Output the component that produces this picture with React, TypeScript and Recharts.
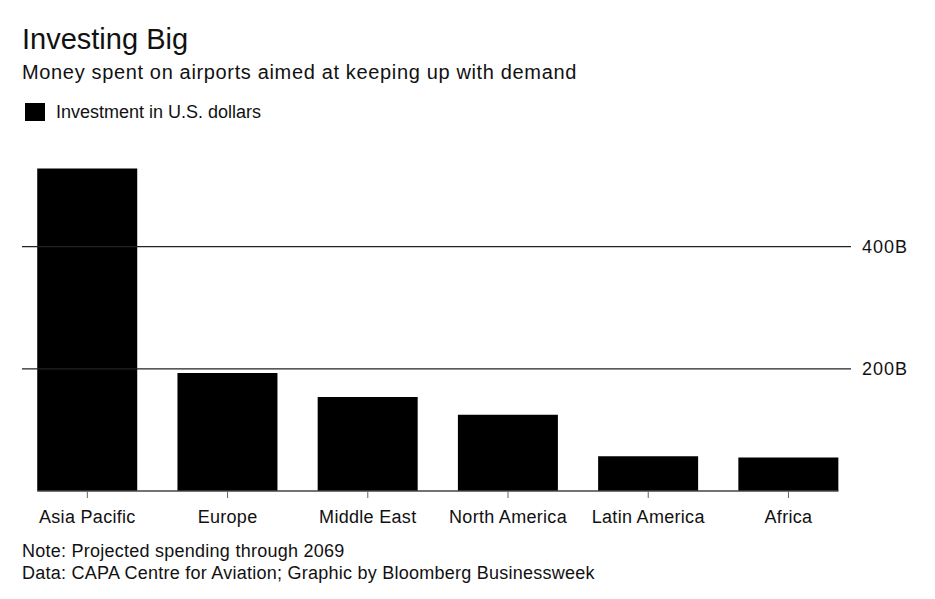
import * as React from 'react';
import { BarChart, Bar, XAxis, YAxis, ReferenceLine } from 'recharts';

const REGIONS = ['Asia Pacific', 'Europe', 'Middle East', 'North America', 'Latin America', 'Africa'];
// investment, billions of U.S. dollars
const INVESTMENT = [528, 193, 154, 125, 57, 55];
const Y_TICKS = [200, 400];

const data = REGIONS.map((region, idx) => ({ idx, region, value: INVESTMENT[idx] }));

const FONT = '"Liberation Sans", Arial, Helvetica, sans-serif';
const INK = '#111';

// bars are 100px wide in a 140px band; the baseline runs from first bar edge to last bar edge
const HALF_BAR = 0.3566;

export default function App() {
  return (
    <div
      style={{
        position: 'absolute',
        left: 0,
        top: 0,
        width: 935,
        height: 599,
        background: '#fff',
        fontFamily: FONT,
        color: INK,
      }}
    >
      <div style={{ position: 'absolute', left: 22, top: 22, fontSize: 29, lineHeight: '34px' }}>
        Investing Big
      </div>
      <div style={{ position: 'absolute', left: 22, top: 60, fontSize: 20, letterSpacing: 0.65, lineHeight: '24px' }}>
        Money spent on airports aimed at keeping up with demand
      </div>
      <div style={{ position: 'absolute', left: 25, top: 103, display: 'flex', alignItems: 'center' }}>
        <span style={{ display: 'inline-block', width: 20, height: 18, background: '#000' }} />
        <span style={{ marginLeft: 11, fontSize: 18, lineHeight: '18px' }}>Investment in U.S. dollars</span>
      </div>

      <div style={{ position: 'absolute', left: 0, top: 0 }}>
        <BarChart width={935} height={599} data={data} margin={{ top: 155, right: 24, bottom: 78, left: 22 }}>
          <XAxis
            type="number"
            dataKey="idx"
            domain={[-0.466, 5.446]}
            ticks={[0, 1, 2, 3, 4, 5]}
            tickFormatter={(i: number) => REGIONS[i]}
            allowDataOverflow
            axisLine={false}
            tickLine={{ stroke: '#666' }}
            tickSize={7}
            tickMargin={12}
            height={30}
            tick={{ fontSize: 18, fill: INK, fontFamily: FONT, letterSpacing: 0.3 }}
          />
          <YAxis
            orientation="right"
            domain={[0, 550]}
            ticks={Y_TICKS}
            tickFormatter={(v: number) => `${v}B`}
            axisLine={false}
            tickLine={false}
            tickMargin={5}
            width={60}
            tick={{ fontSize: 18, fill: INK, fontFamily: FONT, textAnchor: 'start', letterSpacing: 1 }}
          />
          {Y_TICKS.map((t) => (
            <ReferenceLine key={t} y={t} stroke="#222" strokeWidth={1.3} />
          ))}
          <Bar dataKey="value" fill="#000" barSize={100} isAnimationActive={false} />
          <ReferenceLine
            segment={[
              { x: -HALF_BAR, y: 0 },
              { x: 5 + HALF_BAR, y: 0 },
            ]}
            stroke="#444"
            strokeWidth={1.5}
            ifOverflow="visible"
          />
        </BarChart>
      </div>

      <div style={{ position: 'absolute', left: 22, top: 540, fontSize: 18, letterSpacing: 0.25, lineHeight: '22px' }}>
        <div>Note: Projected spending through 2069</div>
        <div>Data: CAPA Centre for Aviation; Graphic by Bloomberg Businessweek</div>
      </div>
    </div>
  );
}
